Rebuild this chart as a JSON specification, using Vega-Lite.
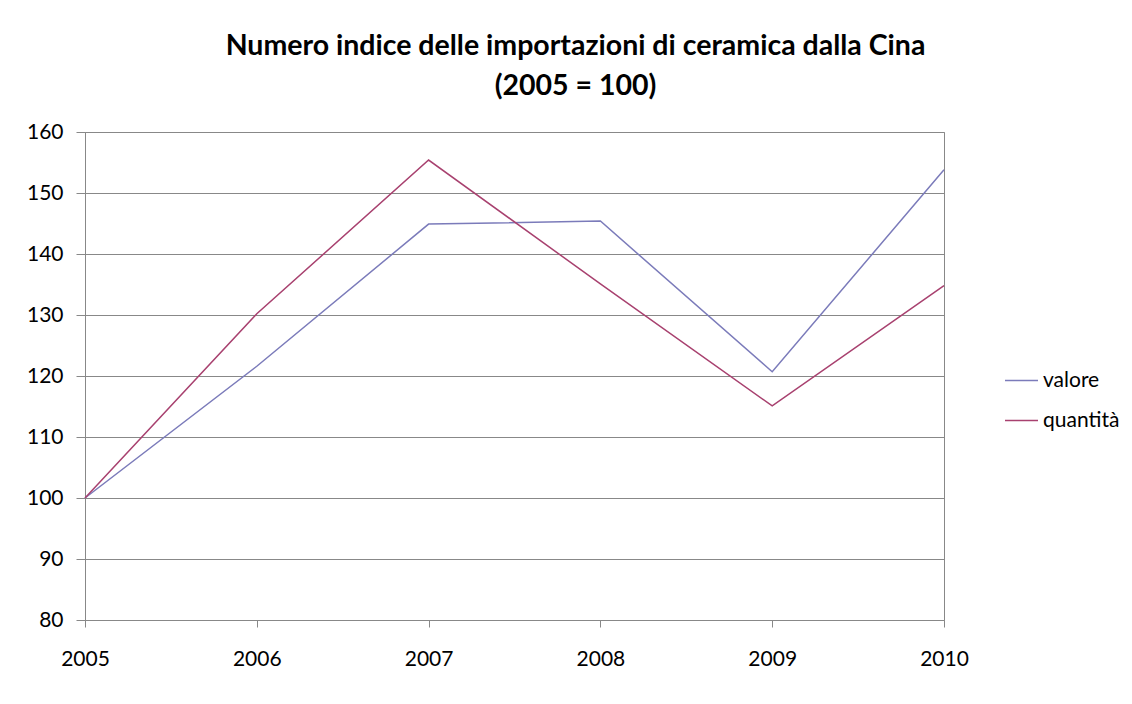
{
  "$schema": "https://vega.github.io/schema/vega-lite/v6.json",
  "width": 859,
  "height": 488,
  "autosize": {"type": "none"},
  "padding": {"left": 85, "top": 132, "right": 188, "bottom": 84},
  "background": "white",
  "title": {
    "text": ["Numero indice delle importazioni di ceramica dalla Cina", "(2005 = 100)"],
    "font": "Lato",
    "fontSize": 28.5,
    "fontWeight": "bold",
    "color": "#000000",
    "anchor": "middle",
    "dx": 61,
    "offset": 21,
    "lineHeight": 40
  },
  "data": {
    "values": [
      {"anno": "2005", "serie": "valore", "indice": 100},
      {"anno": "2006", "serie": "valore", "indice": 121.6},
      {"anno": "2007", "serie": "valore", "indice": 144.9},
      {"anno": "2008", "serie": "valore", "indice": 145.4},
      {"anno": "2009", "serie": "valore", "indice": 120.7},
      {"anno": "2010", "serie": "valore", "indice": 153.8},
      {"anno": "2005", "serie": "quantità", "indice": 100},
      {"anno": "2006", "serie": "quantità", "indice": 130.2},
      {"anno": "2007", "serie": "quantità", "indice": 155.4},
      {"anno": "2008", "serie": "quantità", "indice": 135.1},
      {"anno": "2009", "serie": "quantità", "indice": 115.1},
      {"anno": "2010", "serie": "quantità", "indice": 134.8}
    ]
  },
  "mark": {"type": "line", "strokeWidth": 1.5},
  "encoding": {
    "x": {
      "field": "anno",
      "type": "ordinal",
      "scale": {"type": "point", "padding": 0},
      "axis": {
        "title": null,
        "labelAngle": 0,
        "labelFont": "Lato",
        "labelFontSize": 21,
        "labelColor": "#000000",
        "labelPadding": 21,
        "domainColor": "#888888",
        "tickColor": "#888888",
        "tickSize": 7,
        "grid": false
      }
    },
    "y": {
      "field": "indice",
      "type": "quantitative",
      "scale": {"domain": [80, 160], "nice": false, "zero": false},
      "axis": {
        "title": null,
        "values": [80, 90, 100, 110, 120, 130, 140, 150, 160],
        "labelFont": "Lato",
        "labelFontSize": 21,
        "labelColor": "#000000",
        "labelPadding": 13,
        "domainColor": "#888888",
        "tickColor": "#888888",
        "tickSize": 9,
        "grid": true,
        "gridColor": "#888888",
        "gridWidth": 1
      }
    },
    "color": {
      "field": "serie",
      "type": "nominal",
      "sort": ["valore", "quantità"],
      "scale": {"domain": ["valore", "quantità"], "range": ["#7B7BBA", "#A8416F"]},
      "legend": {
        "title": null,
        "orient": "none",
        "legendX": 919,
        "legendY": 231,
        "symbolType": "stroke",
        "symbolSize": 1089,
        "symbolStrokeWidth": 1.5,
        "labelFont": "Lato",
        "labelFontSize": 21,
        "labelColor": "#000000",
        "labelOffset": 4,
        "rowPadding": 12
      }
    }
  },
  "config": {
    "view": {"stroke": "#888888", "strokeWidth": 1}
  }
}
